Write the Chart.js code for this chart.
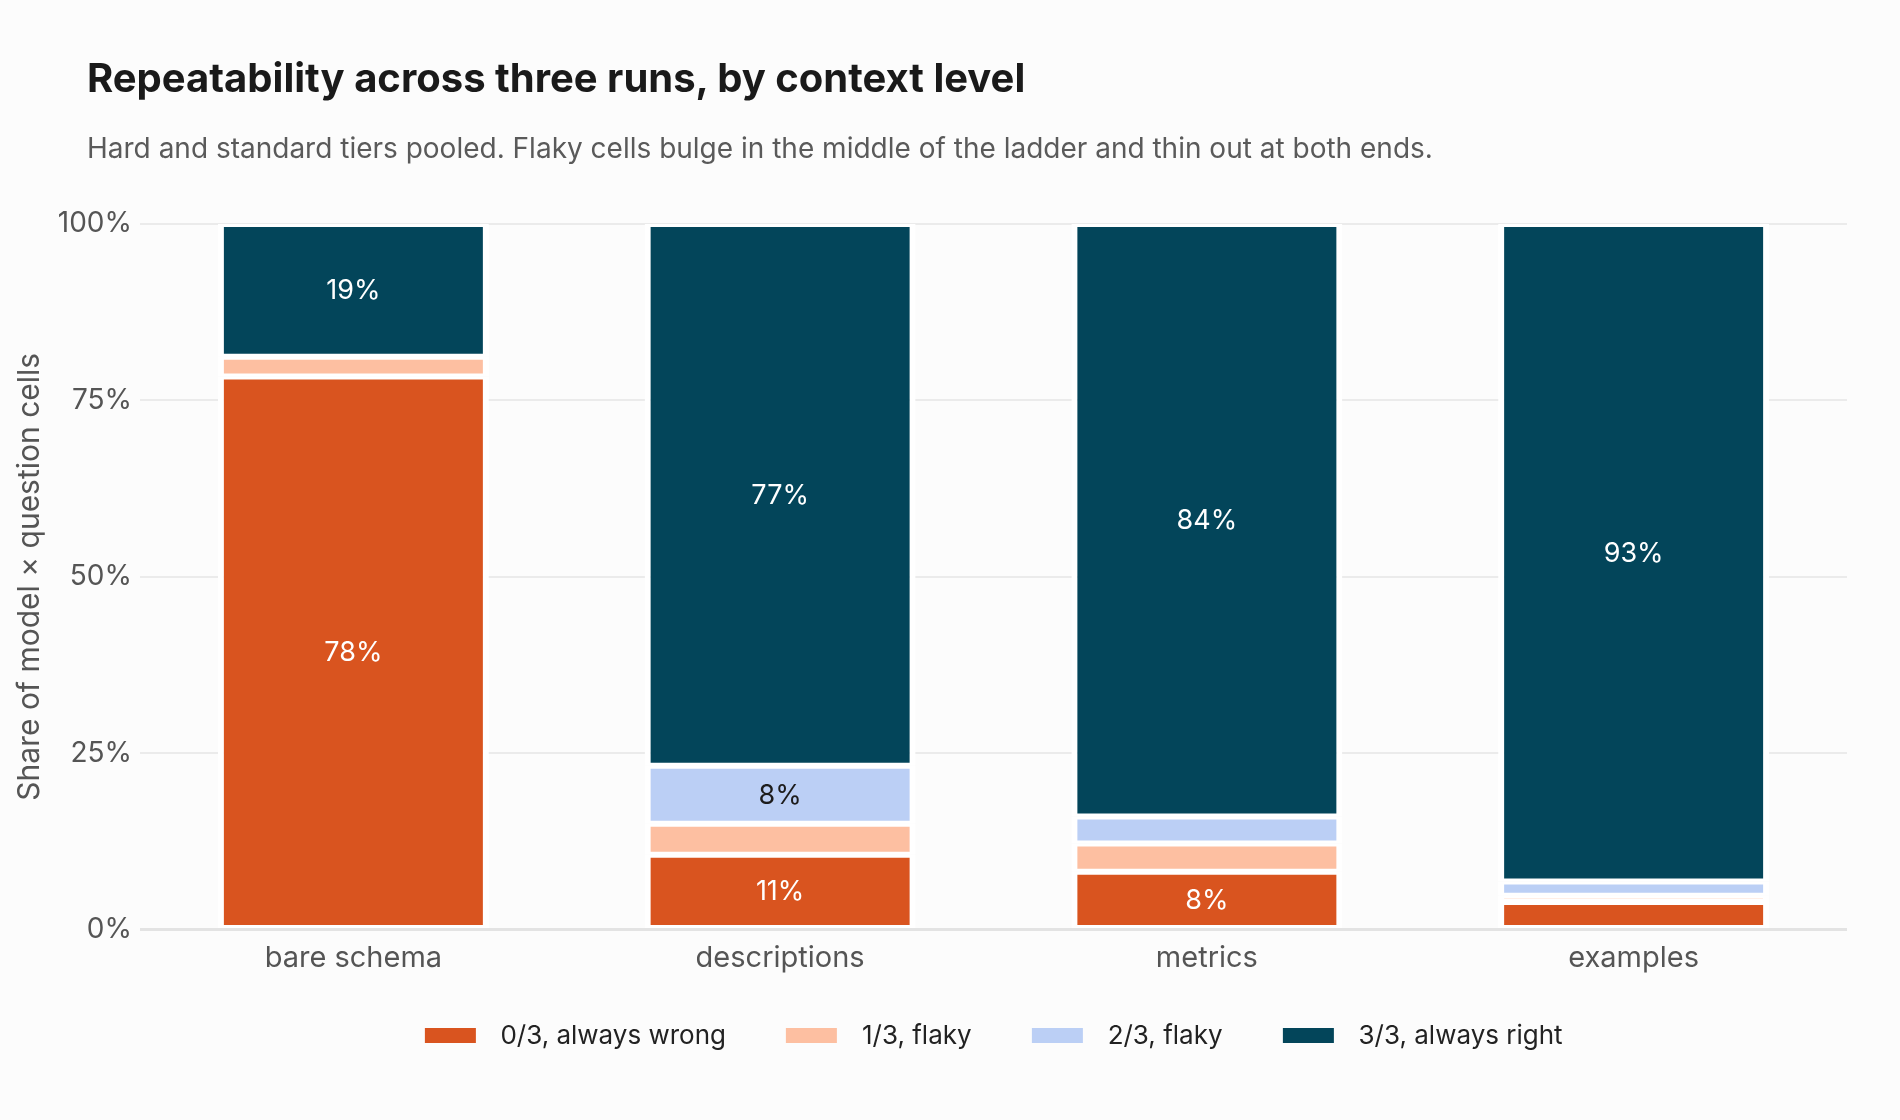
<!DOCTYPE html>
<html>
<head>
<meta charset="utf-8">
<script src="https://cdn.jsdelivr.net/npm/chart.js@4.4.1/dist/chart.umd.min.js"></script>
<style>
  html, body { margin: 0; padding: 0; background: #fcfcfc; }
  #wrap { position: relative; width: 1900px; height: 1120px; overflow: hidden; background: #fcfcfc; }
  #chartBox { position: absolute; left: 0; top: 0; width: 1900px; height: 1120px; }
  #title { position: absolute; left: 87px; top: 58px; font: 700 40px/1 Inter, sans-serif; color: #1a1a1a; white-space: nowrap; }
  #subtitle { position: absolute; left: 87px; top: 134px; font: 400 28px/1 Inter, sans-serif; color: #5a5a5a; white-space: nowrap; }
  #legend { position: absolute; top: 1022px; left: 993px; transform: translateX(-50%); display: flex; align-items: center; gap: 60px; white-space: nowrap; font: 400 26px/1 Inter, sans-serif; color: #222; }
  .item { display: flex; align-items: center; }
  .sw { width: 51px; height: 15px; margin-right: 25px; }
</style>
</head>
<body>
<div id="wrap">
  <div id="chartBox"><canvas id="c"></canvas></div>
  <div id="title">Repeatability across three runs, by context level</div>
  <div id="subtitle">Hard and standard tiers pooled. Flaky cells bulge in the middle of the ladder and thin out at both ends.</div>
  <div id="legend"></div>
</div>
<script>
// ---- data ----
const categories = ["bare schema", "descriptions", "metrics", "examples"];
const seriesNames = ["0/3, always wrong", "1/3, flaky", "2/3, flaky", "3/3, always right"];
const alwaysWrong = [78.4, 10.6, 8.2, 3.9];
const flakyOne = [2.8, 4.4, 4.0, 0.9];
const flakyTwo = [0.0, 8.2, 3.8, 2.0];
const alwaysRight = [18.8, 76.8, 84.0, 93.2];
const yTicks = [0, 25, 50, 75, 100];

const colors = ["#d9541f", "#fdbfa1", "#bbcff5", "#03455a"];
const labelColors = ["#ffffff", "#1c1c1c", "#1c1c1c", "#ffffff"];
const seriesValues = [alwaysWrong, flakyOne, flakyTwo, alwaysRight];

const datasets = seriesValues.map((vals, i) => ({
  label: seriesNames[i],
  data: vals,
  backgroundColor: colors[i],
  borderColor: "#ffffff",
  borderWidth: { top: 3, bottom: 3, left: 6, right: 6 },
  borderSkipped: false,
  inflateAmount: 0,
  barPercentage: 0.635,
  categoryPercentage: 1.0
}));

const segLabels = {
  id: "segLabels",
  afterDatasetsDraw(chart) {
    const ctx = chart.ctx;
    ctx.save();
    ctx.font = "400 27px Inter, sans-serif";
    ctx.textAlign = "center";
    ctx.textBaseline = "middle";
    chart.data.datasets.forEach((ds, i) => {
      const meta = chart.getDatasetMeta(i);
      meta.data.forEach((el, j) => {
        const v = ds.data[j];
        if (v < 6) return;
        const p = el.getProps(["x", "y", "base"], true);
        ctx.fillStyle = labelColors[i];
        ctx.fillText(Math.round(v) + "%", p.x, (p.y + p.base) / 2 + 1);
      });
    });
    ctx.restore();
  }
};

const chart = new Chart(document.getElementById("c"), {
  type: "bar",
  data: { labels: categories, datasets },
  options: {
    responsive: true,
    maintainAspectRatio: false,
    devicePixelRatio: 1,
    animation: false,
    layout: { padding: { left: 0, right: 53, top: 224, bottom: 130.5 } },
    plugins: {
      legend: { display: false },
      title: { display: false },
      tooltip: { enabled: false }
    },
    scales: {
      x: {
        stacked: true,
        grid: { display: false, drawTicks: false },
        border: { display: false },
        ticks: { color: "#555555", font: { family: "Inter, sans-serif", size: 29 }, padding: 11 },
        afterFit(scale) { scale.height = 60; }
      },
      y: {
        stacked: true,
        min: 0,
        max: 100,
        afterBuildTicks(scale) { scale.ticks = yTicks.map(v => ({ value: v })); },
        grid: {
          drawTicks: false,
          color: c => (c.tick && c.tick.value === 0) ? "#e3e3e3" : "#ebebeb",
          lineWidth: c => (c.tick && c.tick.value === 0) ? 3 : 2
        },
        border: { display: false },
        ticks: {
          color: "#555555",
          font: { family: "Inter, sans-serif", size: 28 },
          padding: 8,
          callback: v => v + "%"
        },
        title: {
          display: true,
          text: "Share of model × question cells",
          color: "#555555",
          font: { family: "Inter, sans-serif", size: 30 },
          padding: { top: 12, bottom: 0 }
        },
        afterFit(scale) { scale.width = 140; }
      }
    }
  },
  plugins: [segLabels]
});

// legend built from the series arrays
const leg = document.getElementById("legend");
seriesNames.forEach((n, i) => {
  const it = document.createElement("div");
  it.className = "item";
  const sw = document.createElement("span");
  sw.className = "sw";
  sw.style.background = colors[i];
  const tx = document.createElement("span");
  tx.textContent = n;
  it.appendChild(sw); it.appendChild(tx);
  leg.appendChild(it);
});
const ca = chart.chartArea;
leg.style.left = ((ca.left + ca.right) / 2) + "px";
</script>
</body>
</html>
